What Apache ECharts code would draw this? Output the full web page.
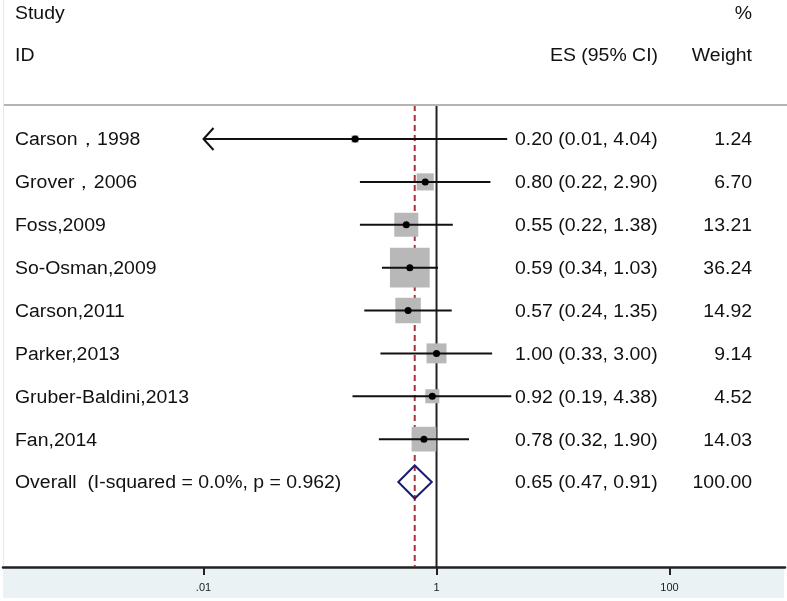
<!DOCTYPE html>
<html>
<head>
<meta charset="utf-8">
<script src="https://cdn.jsdelivr.net/npm/echarts@6/dist/echarts.min.js"></script>
<style>html,body{margin:0;padding:0;background:#fff}#c{width:787px;height:601px}</style>
</head>
<body>
<div id="c"></div>
<script>
const studies = ["Carson，1998","Grover，2006","Foss,2009","So-Osman,2009","Carson,2011","Parker,2013","Gruber-Baldini,2013","Fan,2014"];
const es = [0.20,0.80,0.55,0.59,0.57,1.00,0.92,0.78];
const ciLow = [0.01,0.22,0.22,0.34,0.24,0.33,0.19,0.32];
const ciHigh = [4.04,2.90,1.38,1.03,1.35,3.00,4.38,1.90];
const weights = [1.24,6.70,13.21,36.24,14.92,9.14,4.52,14.03];
const overallLabel = "Overall  (I-squared = 0.0%, p = 0.962)";
const overallES = 0.65, overallLow = 0.47, overallHigh = 0.91, overallWeight = 100.00;
const tickValues = [0.01, 1, 100];
const tickLabels = [".01", "1", "100"];

const FONT = '"Liberation Sans", Arial, sans-serif';
const SX = 1.08;
const TY = 1.5;
const lg = Math.log10;
const rows = studies.map((s, i) => [i, lg(es[i]), lg(ciLow[i]), lg(ciHigh[i]), weights[i], 0, s, es[i], ciLow[i], ciHigh[i]]);
rows.push([studies.length, lg(overallES), lg(overallLow), lg(overallHigh), overallWeight, 1, overallLabel, overallES, overallLow, overallHigh]);
const clipMin = lg(tickValues[0]);

function txt(text, x, y, align) {
  return {type: 'text', x: x, y: y + TY, scaleX: SX, style: {text: text, font: '18px ' + FONT, fill: '#111', verticalAlign: 'middle', align: align}};
}

const chart = echarts.init(document.getElementById('c'), null, {renderer: 'canvas'});
chart.setOption({
  animation: false,
  grid: {left: 3, right: 2, top: 105, bottom: 34},
  xAxis: {
    type: 'value', min: -3.721, max: 2.991,
    axisLine: {onZero: false, lineStyle: {color: '#222', width: 2.5}},
    axisTick: {customValues: tickValues.map(lg), length: 8, lineStyle: {color: '#222', width: 2}},
    axisLabel: {customValues: tickValues.map(lg), margin: 15, fontSize: 11, color: '#222', fontFamily: FONT,
      formatter: v => { const k = tickValues.map(lg).findIndex(t => Math.abs(t - v) < 1e-6); return k >= 0 ? tickLabels[k] : ''; }},
    splitLine: {show: false}
  },
  yAxis: {type: 'value', inverse: true, min: -0.793, max: 9.982, show: false, splitLine: {show: false}},
  graphic: [
    {type: 'rect', shape: {x: 3, y: 568, width: 781, height: 30}, style: {fill: '#eaf2f4'}, z: -10},
    {type: 'line', shape: {x1: 3.5, y1: 0, x2: 3.5, y2: 568}, style: {stroke: '#e3ebf0', lineWidth: 1}, z: -10},
    {type: 'line', shape: {x1: 4, y1: 105, x2: 787, y2: 105}, style: {stroke: '#b4b4b4', lineWidth: 2}, z: 5},
    txt('Study', 15, 13, 'left'),
    txt('ID', 15, 55, 'left'),
    txt('%', 752, 13, 'right'),
    txt('ES (95% CI)', 658, 55, 'right'),
    txt('Weight', 752, 55, 'right')
  ],
  series: [
    {
      type: 'custom', z: 1, data: [[0]], encode: {x: 0},
      renderItem: (params, api) => {
        const cs = params.coordSys;
        const x1 = api.coord([0, 0])[0];
        const xo = api.coord([lg(overallES), 0])[0];
        return {type: 'group', children: [
          {type: 'line', shape: {x1: xo, y1: cs.y, x2: xo, y2: cs.y + cs.height}, style: {stroke: '#a8323c', lineWidth: 2, lineDash: [6, 4]}},
          {type: 'line', shape: {x1: x1, y1: cs.y, x2: x1, y2: cs.y + cs.height}, style: {stroke: '#222', lineWidth: 2}}
        ]};
      }
    },
    {
      type: 'custom', z: 2, data: rows, encode: {x: 1, y: 0},
      renderItem: (params, api) => {
        const idx = api.value(0);
        const y = api.coord([0, idx])[1];
        const xe = api.coord([api.value(1), idx])[0];
        const loV = api.value(2);
        const xl = api.coord([Math.max(loV, clipMin), idx])[0];
        const xh = api.coord([api.value(3), idx])[0];
        const w = api.value(4);
        const isOverall = api.value(5) === 1;
        const r = rows[params.dataIndex];
        const children = [];
        if (isOverall) {
          const h = 16.5;
          children.push({type: 'polygon', shape: {points: [[xl, y], [xe, y - h], [xh, y], [xe, y + h]]},
            style: {fill: 'none', stroke: '#1b1b70', lineWidth: 2}});
        } else {
          const side = 6.6 * Math.sqrt(w);
          children.push({type: 'rect', shape: {x: xe - side / 2, y: y - side / 2, width: side, height: side}, style: {fill: '#b8b8b8'}});
          children.push({type: 'line', shape: {x1: xl, y1: y, x2: xh, y2: y}, style: {stroke: '#111', lineWidth: 2}});
          if (loV <= clipMin + 1e-9) {
            children.push({type: 'polyline', shape: {points: [[xl + 10, y - 11], [xl, y], [xl + 10, y + 11]]}, style: {fill: 'none', stroke: '#111', lineWidth: 2}});
          }
          children.push({type: 'circle', shape: {cx: xe, cy: y, r: 3.5}, style: {fill: '#000'}});
        }
        children.push(txt(r[6], 15, y, 'left'));
        children.push(txt(r[7].toFixed(2) + ' (' + r[8].toFixed(2) + ', ' + r[9].toFixed(2) + ')', 515, y, 'left'));
        children.push(txt(w.toFixed(2), 752, y, 'right'));
        return {type: 'group', children: children};
      }
    }
  ]
});
</script>
</body>
</html>
